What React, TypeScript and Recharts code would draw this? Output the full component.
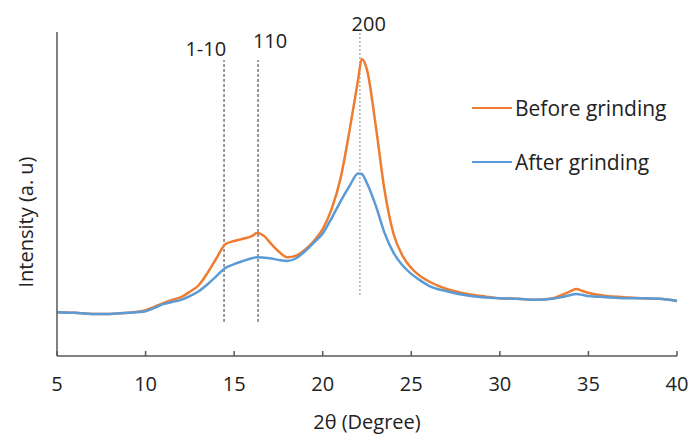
import { LineChart, Line, XAxis, YAxis, ReferenceLine, ReferenceDot } from 'recharts';

// 2θ positions (degree) sampled along the patterns
const twoTheta = [
  5, 6, 7, 8, 9, 10, 10.5, 11, 11.5, 12, 12.5, 13, 13.5, 14, 14.5, 15, 15.5, 16, 16.3, 16.7,
  17, 17.5, 18, 18.5, 19, 19.5, 20, 20.5, 21, 21.5, 22, 22.2, 22.5, 23, 23.5, 24, 24.5, 25,
  25.5, 26, 27, 28, 29, 30, 31, 32, 33, 33.5, 34, 34.3, 34.7, 35, 36, 37, 38, 39, 40,
];

const beforeGrinding = [
  0.81, 0.8, 0.78, 0.78, 0.8, 0.85, 0.91, 0.98, 1.04, 1.09, 1.19, 1.31, 1.54, 1.81, 2.07, 2.13, 2.17, 2.22, 2.28, 2.22,
  2.11, 1.94, 1.83, 1.86, 1.97, 2.13, 2.35, 2.72, 3.28, 4.15, 5.12, 5.5, 5.3, 4.25, 3.05, 2.26, 1.86, 1.63,
  1.48, 1.38, 1.24, 1.16, 1.11, 1.07, 1.06, 1.04, 1.07, 1.13, 1.2, 1.24, 1.2, 1.17, 1.11, 1.09, 1.07, 1.06, 1.02,
];

const afterGrinding = [
  0.81, 0.8, 0.78, 0.78, 0.8, 0.83, 0.89, 0.96, 1.0, 1.04, 1.11, 1.2, 1.33, 1.48, 1.63, 1.7, 1.76, 1.81, 1.83, 1.82,
  1.81, 1.78, 1.76, 1.81, 1.94, 2.1, 2.27, 2.55, 2.86, 3.14, 3.38, 3.37, 3.2, 2.78, 2.27, 1.91, 1.68, 1.52,
  1.4, 1.3, 1.2, 1.13, 1.09, 1.07, 1.06, 1.04, 1.06, 1.09, 1.13, 1.15, 1.13, 1.11, 1.09, 1.07, 1.07, 1.06, 1.02,
];

const xTicks = [5, 10, 15, 20, 25, 30, 35, 40];
const yTicks = [0, 1, 2, 3, 4, 5, 6];

const seriesNames = ['Before grinding', 'After grinding'];
const peakLabels = ['1-10', '110', '200'];
const peakPositions = [14.43, 16.35, 22.1];

const data = twoTheta.map((t, i) => ({
  t,
  before: beforeGrinding[i],
  after: afterGrinding[i],
}));

const FONT = '"Open Sans", sans-serif';
const FS = 20;
const AXIS = '#595959';
const ORANGE = '#ED7D31';
const BLUE = '#5B9BD5';
const TEXT = '#222';

const peakLabel = (text: string) => (props: any) => {
  const { viewBox } = props;
  const cx = viewBox.x + viewBox.width / 2;
  const cy = viewBox.y + viewBox.height / 2;
  return (
    <text x={cx} y={cy} textAnchor="middle" dominantBaseline="central" fontFamily={FONT} fontSize={FS} fill={TEXT}>
      {text}
    </text>
  );
};

function ChartLegend() {
  const colors = [ORANGE, BLUE];
  return (
    <div style={{ position: 'absolute', left: 472, top: 81, fontFamily: FONT, fontSize: 21, color: TEXT }}>
      {seriesNames.map((name, i) => (
        <div key={name} style={{ display: 'flex', alignItems: 'center', height: 54 }}>
          <span style={{ display: 'inline-block', width: 40, height: 2.5, background: colors[i], marginRight: 3 }} />
          <span>{name}</span>
        </div>
      ))}
    </div>
  );
}

export default function App() {
  return (
    <div style={{ position: 'absolute', left: 0, top: 0, width: 691, height: 434, background: '#fff' }}>
      <LineChart width={691} height={434} data={data} margin={{ top: 32, right: 14, left: 0, bottom: 0 }}>
        <XAxis
          dataKey="t"
          type="number"
          domain={[5, 40]}
          ticks={xTicks}
          stroke={AXIS}
          strokeWidth={1.5}
          tickSize={-5}
          tickMargin={26}
          height={78}
          tick={{ fill: TEXT, fontFamily: FONT, fontSize: FS }}
          label={() => (
            <text x={367} y={421} textAnchor="middle" dominantBaseline="central" fontFamily={FONT} fontSize={FS} fill={TEXT}>
              2θ (Degree)
            </text>
          )}
        />
        <YAxis
          type="number"
          domain={[0, 6]}
          ticks={yTicks}
          width={57}
          stroke={AXIS}
          strokeWidth={1.5}
          tickSize={-5}
          tick={false}
          label={() => (
            <text x={25} y={222} transform="rotate(-90 25 222)" textAnchor="middle" dominantBaseline="central" fontFamily={FONT} fontSize={FS} fill={TEXT}>
              Intensity (a. u)
            </text>
          )}
        />
        <ReferenceLine segment={[{ x: peakPositions[0], y: 0.63 }, { x: peakPositions[0], y: 5.48 }]} stroke="#333" strokeDasharray="3 2" />
        <ReferenceLine segment={[{ x: peakPositions[1], y: 0.63 }, { x: peakPositions[1], y: 5.48 }]} stroke="#333" strokeDasharray="3 2" />
        <ReferenceLine segment={[{ x: peakPositions[2], y: 1.13 }, { x: peakPositions[2], y: 6 }]} stroke="#888" strokeDasharray="2 2" />
        <Line type="monotone" dataKey="before" name={seriesNames[0]} stroke={ORANGE} strokeWidth={2.5} dot={false} isAnimationActive={false} />
        <Line type="monotone" dataKey="after" name={seriesNames[1]} stroke={BLUE} strokeWidth={2.5} dot={false} isAnimationActive={false} />
        <ReferenceDot x={13.4} y={5.7} r={0} ifOverflow="visible" label={peakLabel(peakLabels[0])} />
        <ReferenceDot x={17.03} y={5.85} r={0} ifOverflow="visible" label={peakLabel(peakLabels[1])} />
        <ReferenceDot x={22.6} y={6.15} r={0} ifOverflow="visible" label={peakLabel(peakLabels[2])} />
      </LineChart>
      <ChartLegend />
    </div>
  );
}
